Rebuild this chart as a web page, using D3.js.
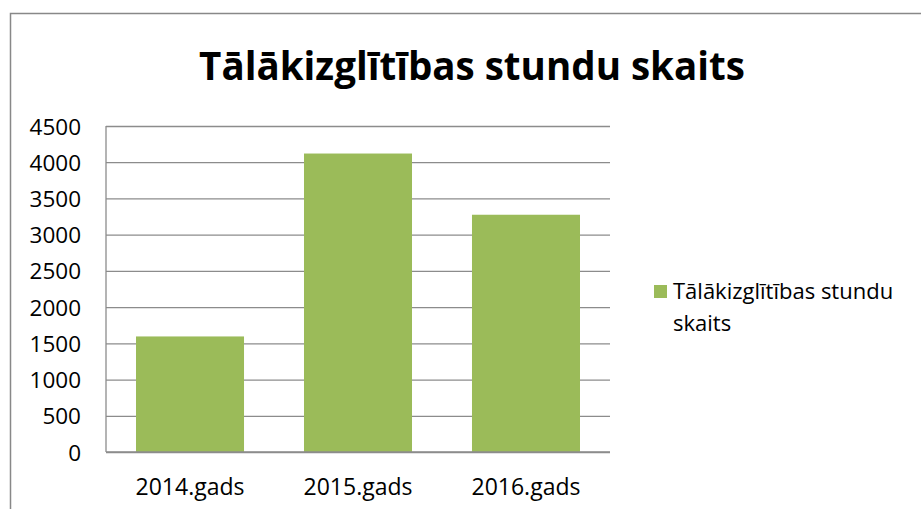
<!DOCTYPE html>
<html>
<head>
<meta charset="utf-8">
<script src="https://d3js.org/d3.v7.min.js"></script>
<style>
  body { margin: 0; background: #fff; }
  text { font-family: "Open Sans", sans-serif; fill: #000; }
</style>
</head>
<body>
<svg class="target" width="921" height="509"></svg>
<script>

// chart data
const title = 'Tālākizglītības stundu skaits'
const categories = ['2014.gads', '2015.gads', '2016.gads']
const values = [1595, 4120, 3275]
const yTicks = [0, 500, 1000, 1500, 2000, 2500, 3000, 3500, 4000, 4500]
const legendLines = ['Tālākizglītības stundu', 'skaits']

const width = 921
const height = 509
const margin = ({ top: 126, right: 311, bottom: 57, left: 106 })
const barColor = '#9bbb59'
const gridColor = '#8c8c8c'

const svg = d3.select('.target')

// outer chart frame (runs off the right/bottom edge like the source)
svg.append('rect')
    .attr('x', 10.5).attr('y', 13.5)
    .attr('width', 930).attr('height', 520)
    .style('fill', 'none')
    .style('stroke', '#888')
    .style('stroke-width', 1.5)

const x = d3.scaleBand()
    .domain(categories)
    .range([margin.left, width - margin.right])
    .paddingInner(0.357)
    .paddingOuter(0.1786)

const y = d3.scaleLinear()
    .domain([0, 4500])
    .range([height - margin.bottom, margin.top])

// gridlines + y labels
const yAxis = d3.axisLeft(y)
    .tickValues(yTicks)
    .tickSize(-(width - margin.right - margin.left))
    .tickPadding(25)
    .tickFormat(d3.format('d'))

svg.append('g')
    .attr('class', 'y-axis')
    .attr('transform', `translate(${margin.left},0)`)
    .call(yAxis)
    .call(g => g.select('.domain').remove())
    .call(g => g.selectAll('line').style('stroke', gridColor).style('stroke-width', 1.3))
    .call(g => g.selectAll('text')
        .style('font-size', '22.5px')
        .style('font-family', '"Open Sans", sans-serif')
        .attr('dy', '0.36em'))

// vertical axis line
svg.append('line')
    .attr('x1', margin.left).attr('x2', margin.left)
    .attr('y1', y(4500)).attr('y2', y(0))
    .style('stroke', gridColor)
    .style('stroke-width', 1.3)

// bars
svg.append('g')
    .selectAll('rect')
    .data(values)
    .join('rect')
      .attr('x', (d, i) => x(categories[i]))
      .attr('y', d => y(d))
      .attr('width', x.bandwidth())
      .attr('height', d => y(0) - y(d))
      .style('fill', barColor)

// baseline on top of bars
svg.append('line')
    .attr('x1', margin.left).attr('x2', width - margin.right)
    .attr('y1', y(0)).attr('y2', y(0))
    .style('stroke', gridColor)
    .style('stroke-width', 1.3)

// x labels
const xAxis = d3.axisBottom(x).tickSize(0).tickPadding(27)
svg.append('g')
    .attr('class', 'x-axis')
    .attr('transform', `translate(0,${y(0)})`)
    .call(xAxis)
    .call(g => g.select('.domain').remove())
    .call(g => g.selectAll('text')
        .style('font-size', '23px')
        .style('font-family', '"Open Sans", sans-serif'))

// helper: shrink text to a target width
function fitWidth(sel, target) {
  const w = sel.node().getComputedTextLength()
  const fs = parseFloat(sel.style('font-size'))
  if (w > target) sel.style('font-size', (fs * target / w) + 'px')
}

// title
const t = svg.append('text')
    .attr('x', 472)
    .attr('y', 80)
    .attr('text-anchor', 'middle')
    .style('font-size', '42px')
    .style('font-weight', 'bold')
    .text(title)
fitWidth(t, 546)

// legend
svg.append('rect')
    .attr('x', 654).attr('y', 285)
    .attr('width', 13).attr('height', 13)
    .style('fill', barColor)

const leg = svg.append('g')
legendLines.forEach((s, i) => {
  const lt = leg.append('text')
      .attr('x', 673)
      .attr('y', 299 + i * 32)
      .style('font-size', '22px')
      .text(s)
  if (i === 0) fitWidth(lt, 232)
})
const fs0 = leg.select('text').style('font-size')
leg.selectAll('text').style('font-size', fs0)

</script>
</body>
</html>
